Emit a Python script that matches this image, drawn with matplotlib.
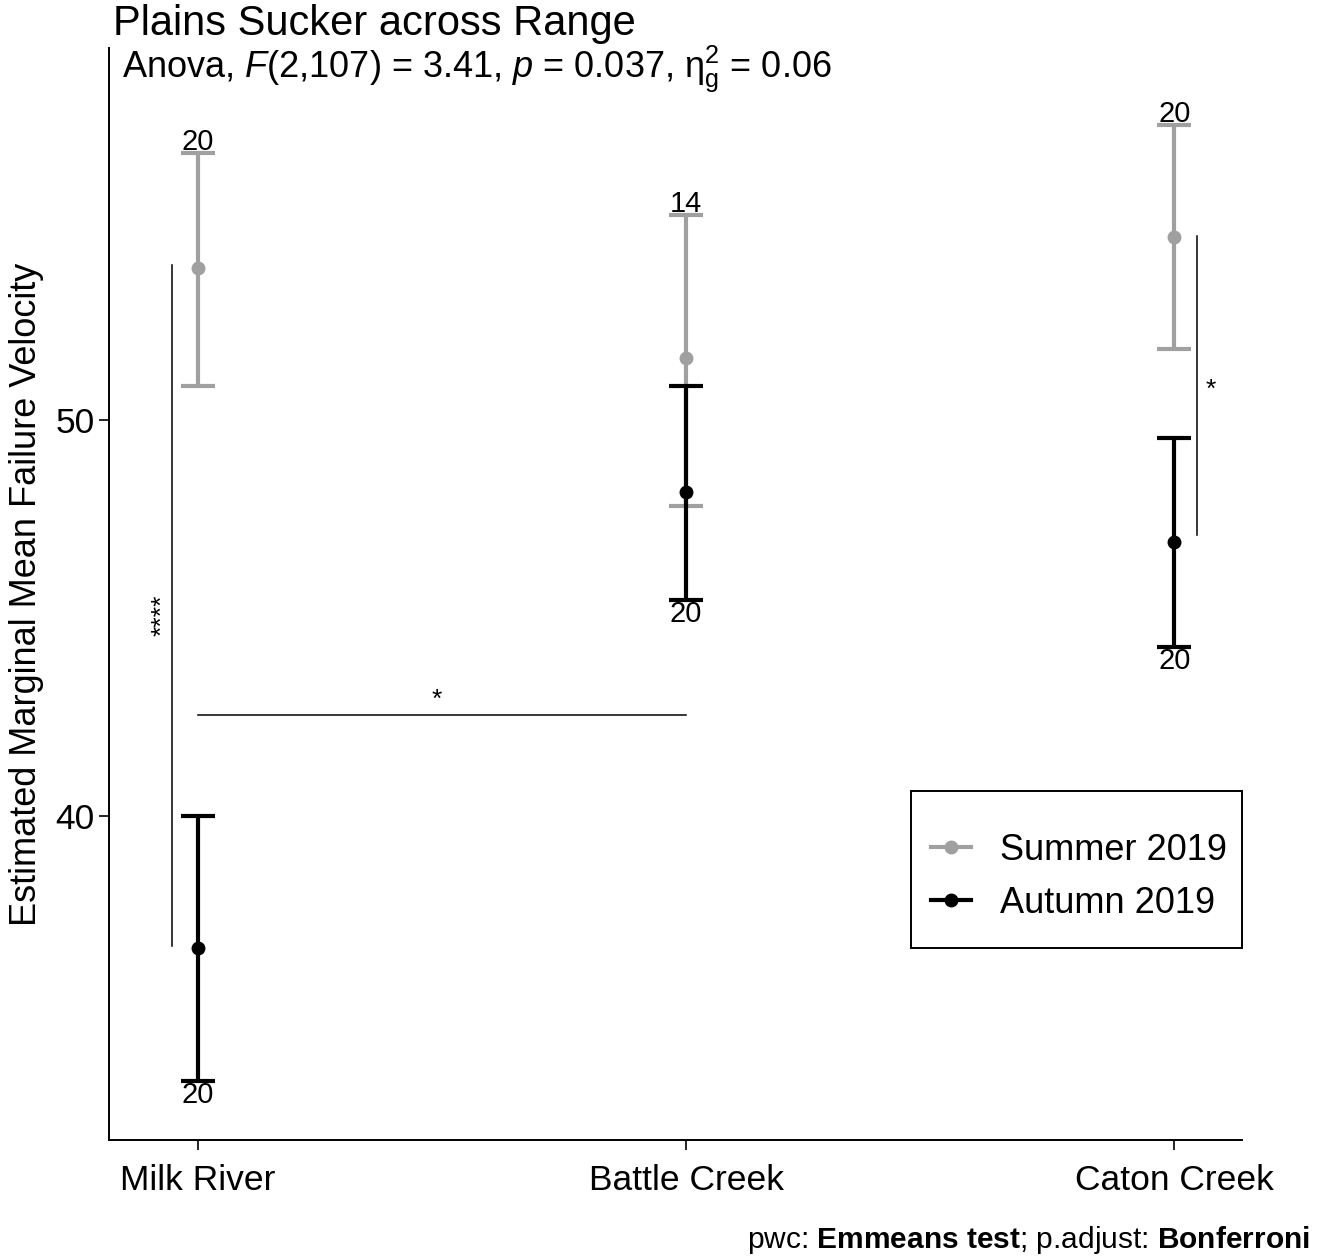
import numpy as np
import matplotlib.pyplot as plt
from matplotlib.lines import Line2D
from matplotlib.patches import Rectangle

plt.rcParams['font.family'] = ['Liberation Sans', 'DejaVu Sans']
plt.rcParams['mathtext.fontset'] = 'custom'
plt.rcParams['mathtext.rm'] = 'Liberation Sans'
plt.rcParams['mathtext.it'] = 'Liberation Sans:italic'
plt.rcParams['mathtext.bf'] = 'Liberation Sans:bold'

# data
sites = ["Milk River", "Battle Creek", "Caton Creek"]
summer_mean = [53.84, 51.57, 54.62]
summer_low = [50.86, 47.83, 51.79]
summer_high = [56.74, 55.18, 57.45]
summer_n = [20, 14, 20]
autumn_mean = [36.67, 48.18, 46.92]
autumn_low = [33.31, 45.45, 44.27]
autumn_high = [40.0, 50.86, 49.55]
autumn_n = [20, 20, 20]

grey = "#a0a0a0"
x = np.arange(1, len(sites) + 1)

fig = plt.figure(figsize=(13.26, 12.58), dpi=100)
ax = fig.add_axes([0.0822, 0.0938, 0.8545, 0.868])

def draw(means, lows, highs, ns, col, above):
    m = np.array(means); lo = np.array(lows); hi = np.array(highs)
    ax.errorbar(x, m, yerr=[m - lo, hi - m], fmt="o", color=col, ecolor=col,
                elinewidth=3, capsize=12.5, capthick=3, markersize=9, zorder=3)
    for xi, l, h, n in zip(x, lows, highs, ns):
        if above:
            ax.annotate(str(n), (xi, h), xytext=(0, -2), textcoords="offset points",
                        ha="center", va="bottom", fontsize=21)
        else:
            ax.annotate(str(n), (xi, l), xytext=(0, 0), textcoords="offset points",
                        ha="center", va="top", fontsize=21)

draw(summer_mean, summer_low, summer_high, summer_n, grey, True)
draw(autumn_mean, autumn_low, autumn_high, autumn_n, "black", False)

# significance brackets
ax.plot([0.947, 0.947], [36.72, 53.91], color="black", lw=1.1)
ax.text(0.928, 45.08, "****", rotation=90, ha="center", va="center", fontsize=19)
ax.plot([1, 2], [42.55, 42.55], color="black", lw=1.1)
ax.text(1.49, 42.62, "*", ha="center", va="bottom", fontsize=19)
ax.plot([3.047, 3.047], [47.1, 54.65], color="black", lw=1.1)
ax.text(3.074, 50.76, "*", ha="center", va="center", fontsize=19)

ax.set_xlim(0.818, 3.139)
ax.set_ylim(31.82, 59.39)
ax.set_xticks(x)
ax.set_xticklabels(sites, fontsize=25.5)
ax.set_yticks([40, 50])
ax.tick_params(axis="y", labelsize=25.5, length=7, width=1.2)
ax.tick_params(axis="x", length=7, width=1.2, pad=10)
ax.set_ylabel("Estimated Marginal Mean Failure Velocity", fontsize=26, labelpad=8)
for s in ["top", "right"]:
    ax.spines[s].set_visible(False)
for s in ["left", "bottom"]:
    ax.spines[s].set_linewidth(1.4)

# legend box drawn on its own, entries centred in it
ax.add_patch(Rectangle((0.708, 0.176), 0.292, 0.144, transform=ax.transAxes,
                       fill=False, edgecolor="black", lw=1.4, clip_on=False))
handles = [Line2D([], [], color=grey, lw=3, marker="o", markersize=9),
           Line2D([], [], color="black", lw=3, marker="o", markersize=9)]
ax.legend(handles, ["Summer 2019", "Autumn 2019"], loc="center",
          bbox_to_anchor=(0.856, 0.241), borderaxespad=0, fontsize=26,
          frameon=False, borderpad=0, handlelength=1.1,
          labelspacing=0.5, handletextpad=0.8)

fig.text(0.085, 0.981, "Plains Sucker across Range", fontsize=30, ha="left", va="center")
fig.text(0.092, 0.945, r"Anova, $F$(2,107) = 3.41, $p$ = 0.037, $\mathrm{\eta}^2_\mathrm{g}$ = 0.06",
         fontsize=26, ha="left", va="center")
fig.text(0.988, 0.014, r"pwc: $\bf{Emmeans\ test}$; p.adjust: $\bf{Bonferroni}$",
         fontsize=21.5, ha="right", va="center")

fig.savefig("out.png", dpi=100)
